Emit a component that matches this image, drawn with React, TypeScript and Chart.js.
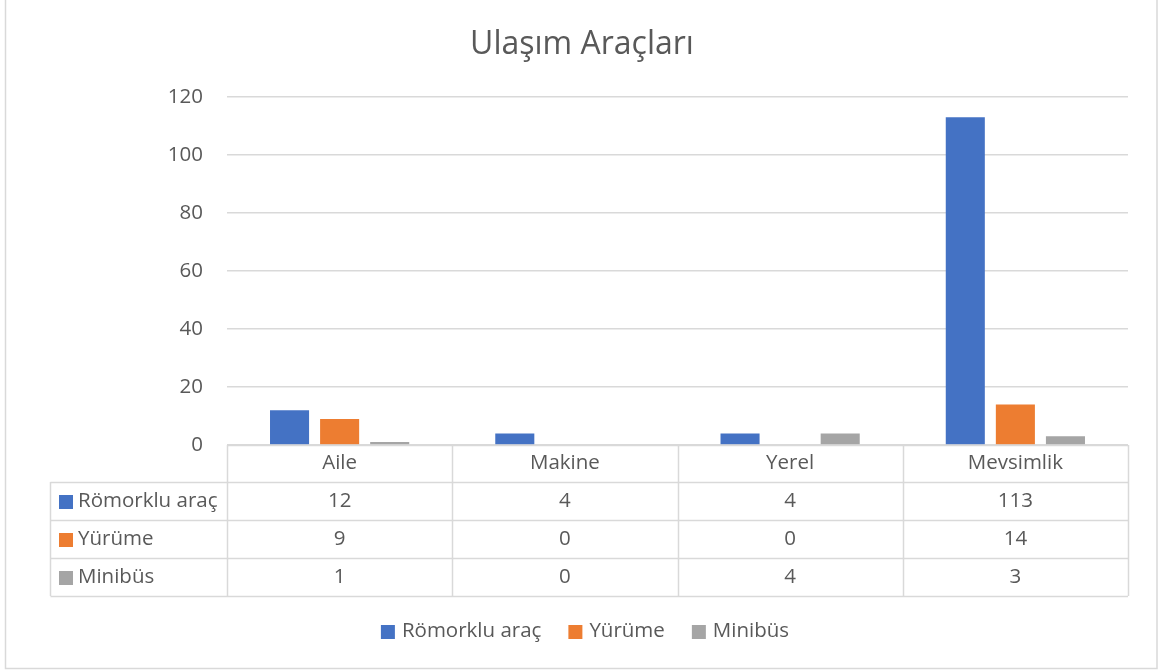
import React, { useEffect, useRef } from "react";
import { Chart, registerables } from "chart.js";

Chart.register(...registerables);

const TITLE = "Ulaşım Araçları";
const categories = ["Aile", "Makine", "Yerel", "Mevsimlik"];
const seriesNames = ["Römorklu araç", "Yürüme", "Minibüs"];
const romorkluArac = [12, 4, 4, 113];
const yurume = [9, 0, 0, 14];
const minibus = [1, 0, 4, 3];
const seriesColors = ["#4472C4", "#ED7D31", "#A5A5A5"];
const yTicks = [0, 20, 40, 60, 80, 100, 120];

const FONT = "'Open Sans', Lato, sans-serif";
const TEXT = "#595959";
const LINE = "#d9d9d9";
const BODY_SIZE = 20.5;

const decorPlugin = {
  id: "decor",
  afterDraw(chart: any) {
    const ctx = chart.ctx as CanvasRenderingContext2D;
    const xs = chart.scales.x;
    const area = chart.chartArea;
    const values = [romorkluArac, yurume, minibus];
    ctx.save();
    // outer border
    ctx.strokeStyle = LINE;
    ctx.lineWidth = 1.5;
    ctx.strokeRect(5.5, -2, 1151.5, 670.5);

    // title
    ctx.fillStyle = TEXT;
    ctx.font = `32px ${FONT}`;
    ctx.textAlign = "center";
    ctx.textBaseline = "middle";
    ctx.fillText(TITLE, 582, 45);

    // data table
    const left = area.left;
    const right = area.right;
    const colW = (right - left) / categories.length;
    const top = area.bottom;
    const headerH = 37;
    const rowH = 38;
    const labelLeft = 50.5;
    const tableBottom = top + headerH + rowH * seriesNames.length;
    ctx.strokeStyle = LINE;
    ctx.lineWidth = 1.5;
    ctx.beginPath();
    ctx.moveTo(left, top + 0.5);
    ctx.lineTo(right, top + 0.5);
    for (let r = 0; r <= seriesNames.length; r++) {
      const y = Math.round(top + headerH + rowH * r) + 0.5;
      ctx.moveTo(labelLeft, y);
      ctx.lineTo(right, y);
    }
    for (let c = 0; c <= categories.length; c++) {
      const x = Math.round(left + colW * c) + 0.5;
      ctx.moveTo(x, top);
      ctx.lineTo(x, tableBottom);
    }
    ctx.moveTo(labelLeft, top + headerH);
    ctx.lineTo(labelLeft, tableBottom);
    ctx.stroke();

    ctx.font = `${BODY_SIZE}px ${FONT}`;
    ctx.fillStyle = TEXT;
    ctx.textAlign = "center";
    categories.forEach((cat, i) => {
      ctx.fillText(cat, xs.getPixelForValue(i), top + headerH / 2);
    });
    seriesNames.forEach((name, r) => {
      const cy = top + headerH + rowH * r + rowH / 2;
      ctx.fillStyle = seriesColors[r];
      ctx.fillRect(59, cy - 6, 14, 14);
      ctx.fillStyle = TEXT;
      ctx.textAlign = "left";
      ctx.fillText(name, 78, cy);
      ctx.textAlign = "center";
      values[r].forEach((v, i) => {
        ctx.fillText(String(v), xs.getPixelForValue(i), cy);
      });
    });

    // legend
    const legendY = 631;
    const gap = 27;
    const box = 14;
    const widths = seriesNames.map((n) => ctx.measureText(n).width);
    const total =
      widths.reduce((a, b) => a + b, 0) + seriesNames.length * (box + 7) + gap * (seriesNames.length - 1);
    let lx = 585 - total / 2;
    seriesNames.forEach((n, i) => {
      ctx.fillStyle = seriesColors[i];
      ctx.fillRect(lx, legendY - 6, box, box);
      lx += box + 7;
      ctx.fillStyle = TEXT;
      ctx.textAlign = "left";
      ctx.fillText(n, lx, legendY);
      lx += widths[i] + gap;
    });
    ctx.restore();
  },
};

export default function App() {
  const ref = useRef<HTMLCanvasElement | null>(null);
  useEffect(() => {
    if (!ref.current) return;
    const chart = new Chart(ref.current, {
      type: "bar",
      data: {
        labels: categories,
        datasets: [romorkluArac, yurume, minibus].map((d, i) => ({
          label: seriesNames[i],
          data: d,
          backgroundColor: seriesColors[i],
          borderWidth: 0,
          barPercentage: 0.78,
          categoryPercentage: 0.667,
        })),
      },
      options: {
        animation: false,
        responsive: false,
        maintainAspectRatio: false,
        layout: { padding: { top: 97, bottom: 227, right: 34, left: 0 } },
        plugins: {
          legend: { display: false },
          title: { display: false },
          tooltip: { enabled: false },
        },
        scales: {
          x: { display: false },
          y: {
            min: 0,
            max: 120,
            afterFit: (s: any) => {
              s.width = 227;
            },
            afterBuildTicks: (s: any) => {
              s.ticks = yTicks.map((v) => ({ value: v }));
            },
            border: { display: false },
            grid: { color: LINE, lineWidth: 1.5, drawTicks: false },
            ticks: {
              padding: 24,
              color: TEXT,
              font: { family: FONT, size: BODY_SIZE },
            },
          },
        },
      },
      plugins: [decorPlugin],
    });
    return () => chart.destroy();
  }, []);
  return (
    <div style={{ position: "fixed", left: 0, top: 0, width: 1162, height: 672, background: "#fff" }}>
      <canvas ref={ref} width={1162} height={672} style={{ width: 1162, height: 672, display: "block" }} />
    </div>
  );
}
